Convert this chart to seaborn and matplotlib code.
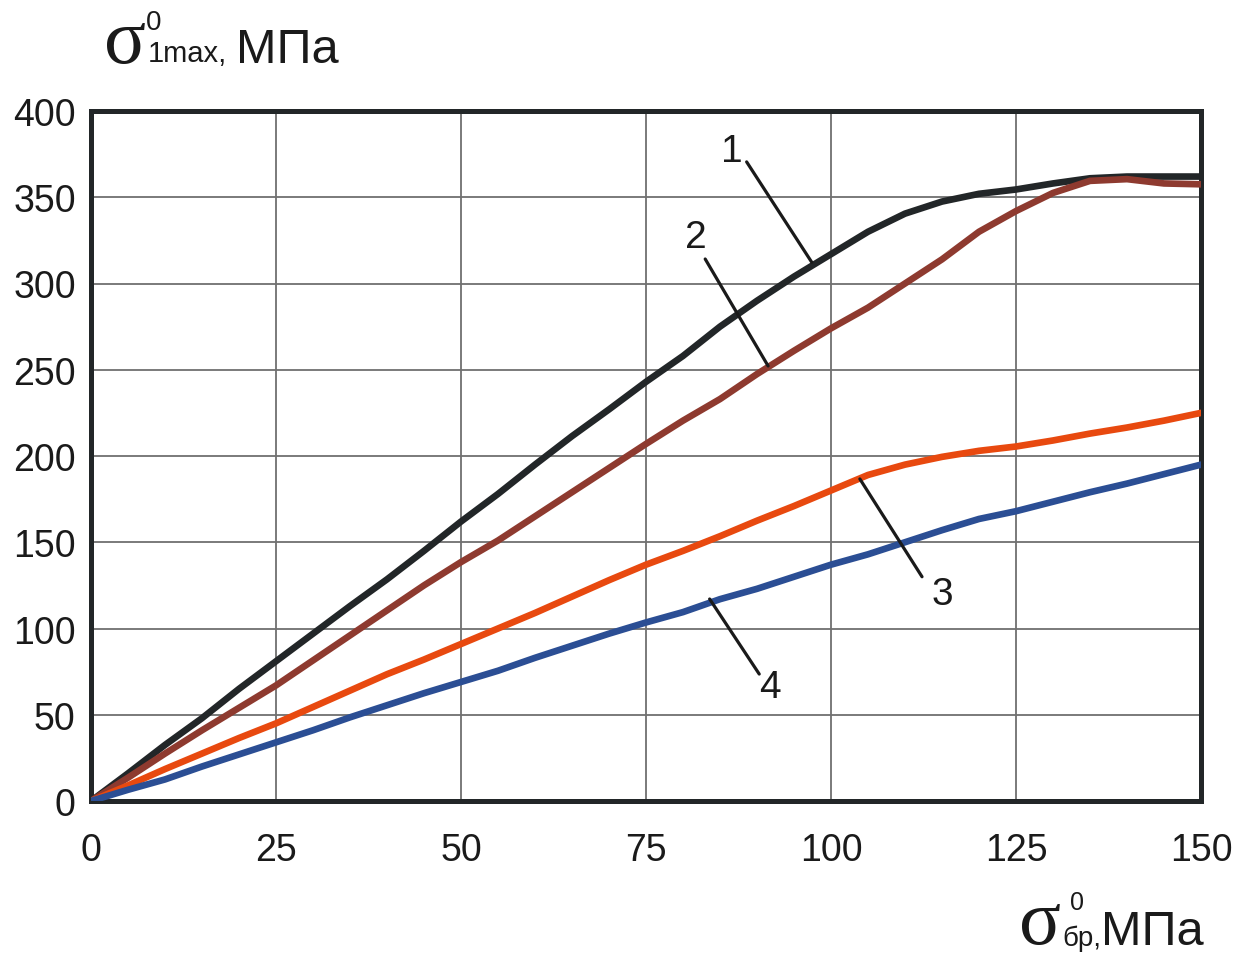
import numpy as np
import pandas as pd
import matplotlib
matplotlib.use('Agg')
import matplotlib.pyplot as plt
import seaborn as sns

# Style
sns.set_style("white")
plt.rcParams['font.family'] = ['Liberation Sans', 'DejaVu Sans']

# Data
x_vals = list(range(0, 151, 5))
curve_1 = [0, 16, 32.5, 48, 65, 81, 97, 113, 128.5, 145, 162, 178, 195, 211.5, 227, 243,
           258, 275, 290, 304, 317, 330, 340.5, 347.5, 352, 354.5, 358, 361, 362, 362, 362]
curve_2 = [0, 13.5, 27.5, 41, 54, 67, 81.5, 96, 110.5, 125, 138.5, 151, 165, 179, 193, 207,
           220.5, 233, 247.5, 261, 274, 286, 300, 314, 330, 342, 352.5, 359.5, 360.5, 358, 357.5]
curve_3 = [0, 9, 18.5, 27.5, 36.5, 45, 54.5, 64, 73.5, 82, 91, 100, 109, 118.5, 128, 137,
           145, 153.5, 162.5, 171, 180, 189, 195, 199.5, 203, 205.5, 209, 213, 216.5, 220.5, 225]
curve_4 = [0, 6.5, 12.5, 20, 27, 34, 41, 48.5, 55.5, 62.5, 69, 75.5, 83, 90, 97, 103.5,
           109.5, 117, 123, 130, 137, 143, 150, 157, 163.5, 168, 173.5, 179, 184, 189.5, 195]
curve_names = ['1', '2', '3', '4']
curve_colors = ['#222628', '#8e3a2f', '#e8490f', '#2b4e94']

x_ticks = [0, 25, 50, 75, 100, 125, 150]
y_ticks = [0, 50, 100, 150, 200, 250, 300, 350, 400]

# curve number labels: text position, leader line start, leader line end (data units)
label_text_xy = [(86.6, 377), (81.8, 327), (115.1, 120), (91.8, 66)]
leader_start = [(88.6, 370.5), (83.0, 314.2), (112.3, 130.0), (90.3, 73.6)]
leader_end = [(97.4, 312.3), (91.5, 252.2), (103.9, 186.7), (83.6, 117.1)]

# long table for seaborn
frames = []
for name, vals in zip(curve_names, [curve_1, curve_2, curve_3, curve_4]):
    frames.append(pd.DataFrame({'x': x_vals, 'y': vals, 'curve': name}))
df = pd.concat(frames, ignore_index=True)

W, H = 1238, 954
fig = plt.figure(figsize=(W / 100, H / 100), dpi=100)
ax = fig.add_axes([91 / W, 1 - 802 / H, (1201 - 91) / W, (802 - 112) / H])

ax.set_axisbelow(True)
ax.grid(True, color='#707070', linewidth=1.3)

sns.lineplot(data=df, x='x', y='y', hue='curve', palette=dict(zip(curve_names, curve_colors)),
             linewidth=4.8, legend=False, errorbar=None, ax=ax, zorder=3)

ax.set_xlim(0, 150)
ax.set_ylim(0, 400)
ax.set_xticks(x_ticks)
ax.set_yticks(y_ticks)
ax.set_xlabel('')
ax.set_ylabel('')

for sp in ax.spines.values():
    sp.set_linewidth(3.6)
    sp.set_color('#222628')
    sp.set_visible(True)

ax.tick_params(axis='both', direction='out', length=8, width=3.5, color='#222628',
               labelsize=27, labelcolor='#1a1a1a')
ax.tick_params(axis='y', pad=3)
ax.tick_params(axis='x', pad=14)

# curve labels with leader lines
for name, txy, s, e in zip(curve_names, label_text_xy, leader_start, leader_end):
    ax.plot([s[0], e[0]], [s[1], e[1]], color='#1a1a1a', lw=2.3, zorder=4)
    ax.text(txy[0], txy[1], name, fontsize=28, ha='center', va='center', color='#1a1a1a', zorder=5)


def ftext(px, py, s, size, family='Liberation Sans'):
    fig.text(px / W, 1 - py / H, s, fontsize=size, family=family, ha='left', va='baseline',
             color='#1a1a1a')


# y axis label (top left)
ftext(104, 63, 'σ', 56, 'Liberation Serif')
ftext(146, 30, '0', 20)
ftext(148, 62, '1max,', 21)
ftext(236, 63, 'МПа', 35)

# x axis label (bottom right)
ftext(1019, 944, 'σ', 56, 'Liberation Serif')
ftext(1070, 910, '0', 18)
ftext(1062, 946, 'бр,', 20)
ftext(1101, 945, 'МПа', 35)

fig.savefig('out.png', dpi=100)
